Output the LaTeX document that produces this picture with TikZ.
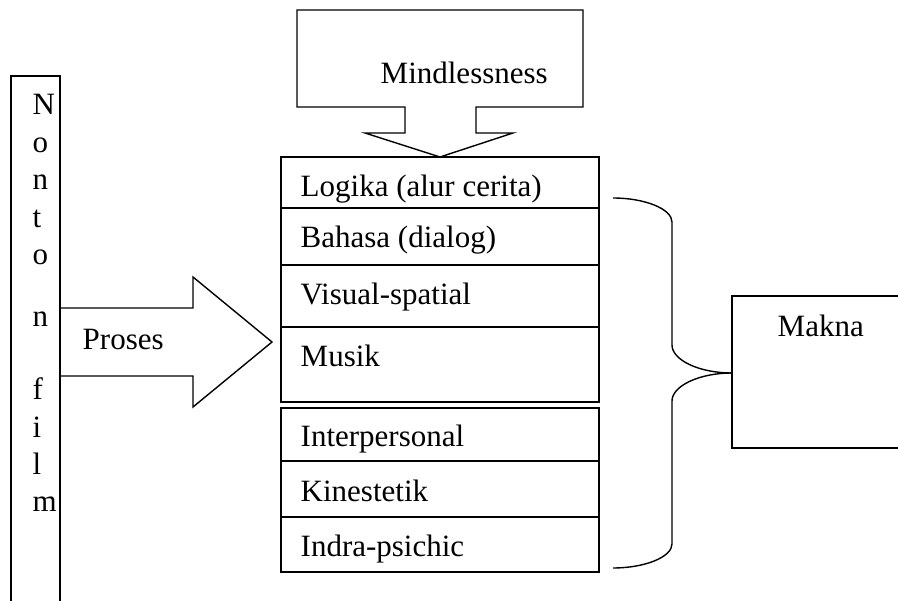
\documentclass[tikz,border=0pt]{standalone}
\usepackage{fontspec}
\setmainfont{Liberation Serif}
\begin{document}
\begin{tikzpicture}[x=1pt,y=-1pt,line width=1.4pt,
    lbl/.style={anchor=base west,inner sep=0pt,font=\fontsize{31}{37}\selectfont}]
    \useasboundingbox (0,0) rectangle (898,601);

    % nonton film
    \draw (11,620) -- (11,76) -- (60,76) -- (60,620);
    \node[lbl] (l1) at (32,115) {N};
    \node[lbl] (l2) at (32,153) {o};
    \node[lbl] (l3) at (32,190) {n};
    \node[lbl] (l4) at (32,228) {t};
    \node[lbl] (l5) at (32,265) {o};
    \node[lbl] (l6) at (32,327) {n};
    \node[lbl] (l7) at (32,400) {f};
    \node[lbl] (l8) at (32,438) {i};
    \node[lbl] (l9) at (32,475) {l};
    \node[lbl] (l10) at (32,512) {m};

    % proses
    \draw (60,308) -- (193,308) -- (193,277) -- (272,342) -- (193,407) -- (193,376) -- (60,376) -- cycle;
    \node[lbl] (proses) at (82,350) {Proses};

    % mindlessness
    \draw (297,10) -- (583,10) -- (583,107) -- (476,107) -- (476,133) -- (513,133) -- (440,157)
        -- (365,133) -- (405,133) -- (405,107) -- (297,107) -- cycle;
    \node[lbl] (mind) at (380,84) {Mindlessness};

    % kecerdasan
    \draw (281,157) rectangle (599,402);
    \draw (281,208) -- (599,208);
    \draw (281,265) -- (599,265);
    \draw (281,327) -- (599,327);
    \node[lbl] (logika) at (300,197) {Logika (alur cerita)};
    \node[lbl] (bahasa) at (300,248) {Bahasa (dialog)};
    \node[lbl] (visual) at (300,305) {Visual-spatial};
    \node[lbl] (musik) at (300,367) {Musik};

    \draw (281,408) rectangle (599,572);
    \draw (281,461) -- (599,461);
    \draw (281,517) -- (599,517);
    \node[lbl] (inter) at (300,447) {Interpersonal};
    \node[lbl] (kines) at (300,502) {Kinestetik};
    \node[lbl] (indra) at (300,557) {Indra-psichic};

    % makna
    \draw (910,296) -- (732,296) -- (732,448) -- (910,448);
    \node[lbl] (makna) at (777,337) {Makna};
    \coordinate (maknain) at (732,373);
    \coordinate (brtop) at (613,198);
    \coordinate (brbot) at (613,568);

    \draw (brtop) .. controls (645,198) and (672,209) .. (672,222) -- (672,345)
        .. controls (672,360) and (699,373) .. (maknain);
    \draw (maknain) .. controls (699,373) and (672,386) .. (672,401) -- (672,544)
        .. controls (672,557) and (645,568) .. (brbot);
\end{tikzpicture}
\end{document}
